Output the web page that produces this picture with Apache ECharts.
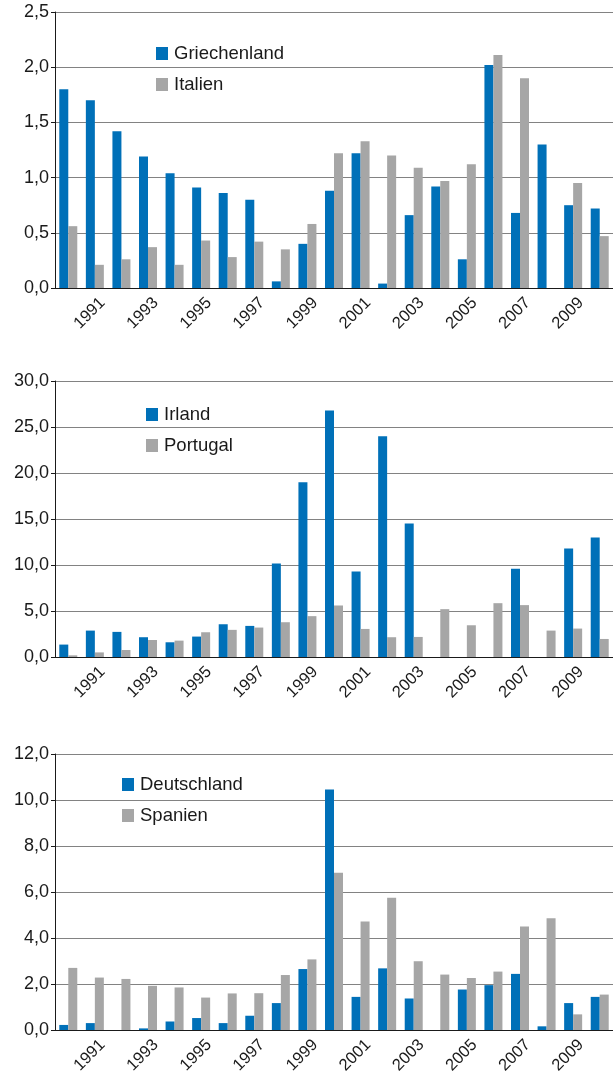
<!DOCTYPE html>
<html>
<head>
<meta charset="utf-8">
<script src="https://cdn.jsdelivr.net/npm/echarts@6/dist/echarts.min.js"></script>
<style>
  html, body { margin: 0; padding: 0; background: #fff; }
  #chart { width: 613px; height: 1077px; }
</style>
</head>
<body>
<div id="chart"></div>
<script>
// Jahre 1990 - 2010
const years = ['1990', '1991', '1992', '1993', '1994', '1995', '1996', '1997', '1998', '1999', '2000',
  '2001', '2002', '2003', '2004', '2005', '2006', '2007', '2008', '2009', '2010']

const griechenland = [1.80, 1.70, 1.42, 1.19, 1.04, 0.91, 0.86, 0.80, 0.06, 0.40, 0.88,
  1.22, 0.04, 0.66, 0.92, 0.26, 2.02, 0.68, 1.30, 0.75, 0.72]
const italien = [0.56, 0.21, 0.26, 0.37, 0.21, 0.43, 0.28, 0.42, 0.35, 0.58, 1.22,
  1.33, 1.20, 1.09, 0.97, 1.12, 2.11, 1.90, 0, 0.95, 0.47]

const irland = [1.35, 2.87, 2.73, 2.15, 1.60, 2.22, 3.56, 3.38, 10.15, 19.0, 26.8,
  9.3, 24.0, 14.5, 0, 0, 0, 9.6, 0, 11.8, 13.0]
const portugal = [0.18, 0.50, 0.76, 1.85, 1.78, 2.69, 2.95, 3.20, 3.78, 4.44, 5.60,
  3.05, 2.15, 2.18, 5.20, 3.45, 5.85, 5.64, 2.87, 3.09, 1.96]

const deutschland = [0.22, 0.30, 0, 0.07, 0.37, 0.52, 0.30, 0.62, 1.17, 2.65, 10.46,
  1.44, 2.68, 1.37, 0, 1.76, 1.95, 2.44, 0.16, 1.17, 1.44]
const spanien = [2.70, 2.28, 2.22, 1.92, 1.85, 1.41, 1.59, 1.60, 2.39, 3.07, 6.84,
  4.72, 5.75, 2.99, 2.41, 2.26, 2.54, 4.50, 4.86, 0.68, 1.54]

const yMax = [2.5, 30, 12]
const yStep = [0.5, 5, 2]

const BLUE = '#0070b8'
const GREY = '#a6a6a6'
const TEXT = '#1a1a1a'
const FONT = 'Liberation Sans, Arial, sans-serif'

const chart = echarts.init(document.getElementById('chart'))

const gridTops = [12, 381, 754]
const legendPos = [[156, 44], [146, 405], [122, 775]]
const panels = [
  [['Griechenland', griechenland], ['Italien', italien]],
  [['Irland', irland], ['Portugal', portugal]],
  [['Deutschland', deutschland], ['Spanien', spanien]]
]

const grid = gridTops.map(top => ({ left: 55, top: top, width: 558, height: 276 }))

const xAxis = panels.map((p, i) => ({
  type: 'category',
  gridIndex: i,
  data: years,
  axisLine: { lineStyle: { color: TEXT, width: 1 } },
  axisTick: { interval: 0, length: 5, lineStyle: { color: TEXT } },
  axisLabel: {
    interval: (idx) => idx % 2 === 1,
    rotate: 45,
    margin: 20,
    fontSize: 16.5,
    fontFamily: FONT,
    color: TEXT,
    // Jahreszahlen sitzen im Original etwas rechts der Kategoriemitte
    padding: [0, -11, 0, 0]
  }
}))

const yAxis = panels.map((p, i) => ({
  type: 'value',
  gridIndex: i,
  min: 0,
  max: yMax[i],
  interval: yStep[i],
  axisLine: { show: true, lineStyle: { color: TEXT, width: 1 } },
  axisTick: { show: true, length: 4, lineStyle: { color: TEXT } },
  axisLabel: {
    fontSize: 18,
    fontFamily: FONT,
    color: TEXT,
    margin: 6,
    formatter: (v) => v.toFixed(1).replace('.', ',')
  },
  splitLine: { lineStyle: { color: '#828282', width: 1 } }
}))

const legend = panels.map((p, i) => ({
  orient: 'vertical',
  left: legendPos[i][0],
  top: legendPos[i][1],
  padding: 0,
  itemWidth: 12,
  itemHeight: 13,
  itemGap: 12,
  icon: 'rect',
  selectedMode: false,
  textStyle: { fontSize: 18.5, fontFamily: FONT, color: TEXT, padding: [0, 0, 0, 1] },
  data: p.map(s => s[0])
}))

const series = []
panels.forEach((p, i) => {
  p.forEach((s, j) => {
    series.push({
      name: s[0],
      type: 'bar',
      xAxisIndex: i,
      yAxisIndex: i,
      data: s[1],
      barWidth: 9,
      barGap: '0%',
      itemStyle: { color: j === 0 ? BLUE : GREY },
      emphasis: { disabled: true }
    })
  })
})

chart.setOption({
  animation: false,
  grid: grid,
  legend: legend,
  xAxis: xAxis,
  yAxis: yAxis,
  series: series
})
</script>
</body>
</html>
